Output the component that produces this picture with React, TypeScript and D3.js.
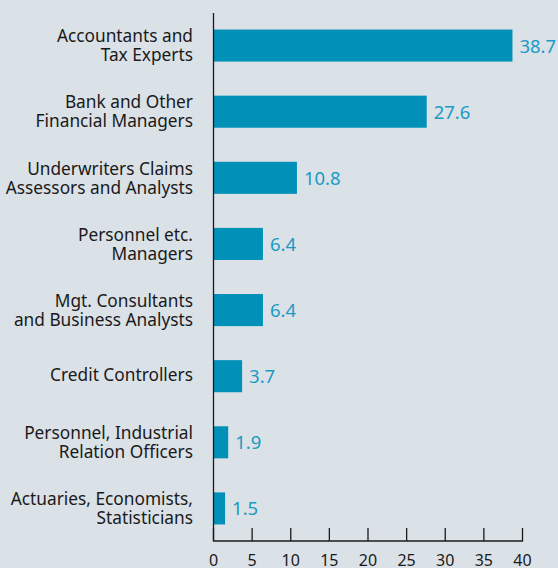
import React from "react";
import * as d3 from "d3";

const categories: string[][] = [
  ["Accountants and", "Tax Experts"],
  ["Bank and Other", "Financial Managers"],
  ["Underwriters Claims", "Assessors and Analysts"],
  ["Personnel etc.", "Managers"],
  ["Mgt. Consultants", "and Business Analysts"],
  ["Credit Controllers"],
  ["Personnel, Industrial", "Relation Officers"],
  ["Actuaries, Economists,", "Statisticians"],
];
const values: number[] = [38.7, 27.6, 10.8, 6.4, 6.4, 3.7, 1.9, 1.5];
const ticks: number[] = [0, 5, 10, 15, 20, 25, 30, 35, 40];

const W = 558;
const H = 568;
const FONT = "'Noto Sans', 'Open Sans', sans-serif";

export default function App() {
  const x = d3.scaleLinear().domain([0, 40]).range([213.5, 522.5]);
  const y = d3
    .scaleBand<number>()
    .domain(d3.range(values.length))
    .range([13, 541])
    .paddingInner(0.515)
    .paddingOuter(0.25);
  const axisY = 541;
  return (
    <svg
      width={W}
      height={H}
      style={{ position: "absolute", left: 0, top: 0, background: "#dae1e7" }}
      fontFamily={FONT}
    >
      <rect x={0} y={0} width={W} height={H} fill="#dae1e7" />
      {values.map((v, i) => {
        const y0 = y(i)!;
        const cy = y0 + y.bandwidth() / 2;
        const lines = categories[i];
        return (
          <g key={i}>
            <rect
              x={x(0)}
              y={y0}
              width={x(v) - x(0)}
              height={y.bandwidth()}
              fill="#0090b8"
            />
            <text
              x={x(v) + 7}
              y={cy + 7}
              fontSize={18.5}
              fill="#1a9bc4"
            >
              {v.toFixed(1)}
            </text>
            <text textAnchor="end" fontSize={17.3} fill="#1a1a1a">
              {lines.map((l, k) => (
                <tspan
                  key={k}
                  x={193}
                  y={cy + (lines.length === 1 ? 5 : k === 0 ? -3.3 : 15.7)}
                >
                  {l}
                </tspan>
              ))}
            </text>
          </g>
        );
      })}
      <line x1={213.5} x2={213.5} y1={13} y2={axisY} stroke="#1a1a1a" strokeWidth={1.3} />
      <line x1={213} x2={x(40) + 0.5} y1={axisY} y2={axisY} stroke="#1a1a1a" strokeWidth={1.3} />
      {ticks.map((t) => (
        <g key={t}>
          <line x1={x(t)} x2={x(t)} y1={axisY} y2={axisY - 13} stroke="#1a1a1a" strokeWidth={1.3} />
          <text x={x(t)} y={566} textAnchor="middle" fontSize={16} fill="#1a1a1a">
            {t}
          </text>
        </g>
      ))}
    </svg>
  );
}
